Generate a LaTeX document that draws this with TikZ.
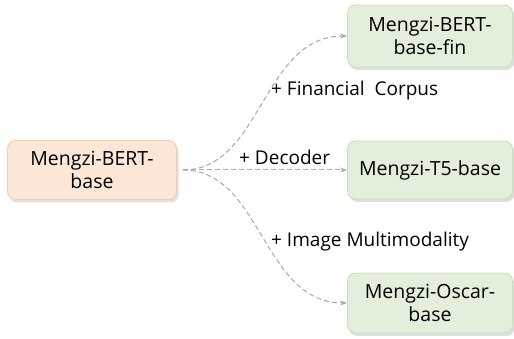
\documentclass[tikz,border=0pt]{standalone}
\usepackage{fontspec}
\setmainfont{Open Sans}
\usetikzlibrary{shadows,arrows.meta}
\definecolor{peachfill}{HTML}{FBE6D8}
\definecolor{peachline}{HTML}{F2CDB3}
\definecolor{greenfill}{HTML}{E4EFDB}
\definecolor{greenline}{HTML}{C9DEB9}
\definecolor{edgegray}{HTML}{A8A8A8}
\tikzset{
  box/.style={draw, rounded corners=8pt, line width=0.8pt, align=center,
    font=\fontsize{19.5}{23}\selectfont, inner sep=2pt,
    drop shadow={shadow xshift=2pt, shadow yshift=-3pt, opacity=0.25, fill=gray}},
  srcbox/.style={box, fill=peachfill, draw=peachline, minimum width=169pt, minimum height=59pt},
  dstbox/.style={box, fill=greenfill, draw=greenline, minimum width=165pt, minimum height=62pt},
  conn/.style={draw=edgegray, dash pattern=on 5pt off 3pt, line width=1pt, -{Stealth[length=7pt,width=5pt]}},
  lbl/.style={font=\fontsize{19}{22}\selectfont, anchor=west, inner sep=0pt}
}
\begin{document}
\begin{tikzpicture}[x=1pt,y=-1pt]
\useasboundingbox (0,0) rectangle (514,339);
\node[srcbox] (src) at (92,170) {Mengzi-BERT-\\base};
\node[dstbox] (fin) at (430,36) {Mengzi-BERT-\\base-fin};
\node[dstbox, minimum height=58pt] (t5) at (430,170) {Mengzi-T5-base};
\node[dstbox, minimum height=60pt] (oscar) at (430,303) {Mengzi-Oscar-\\base};
\coordinate (o) at ([xshift=6pt]src.east);
\draw[conn] (o) .. controls (262,170) and (262,36) .. (fin.west);
\draw[conn] (o) -- (t5.west);
\draw[conn] (o) .. controls (262,170) and (262,303) .. (oscar.west);
\node[lbl] (l1) at (271,91) {+ Financial\ \ Corpus};
\node[lbl] (l2) at (239,157) {+ Decoder};
\node[lbl] (l3) at (271,242) {+ Image Multimodality};
\end{tikzpicture}
\end{document}
